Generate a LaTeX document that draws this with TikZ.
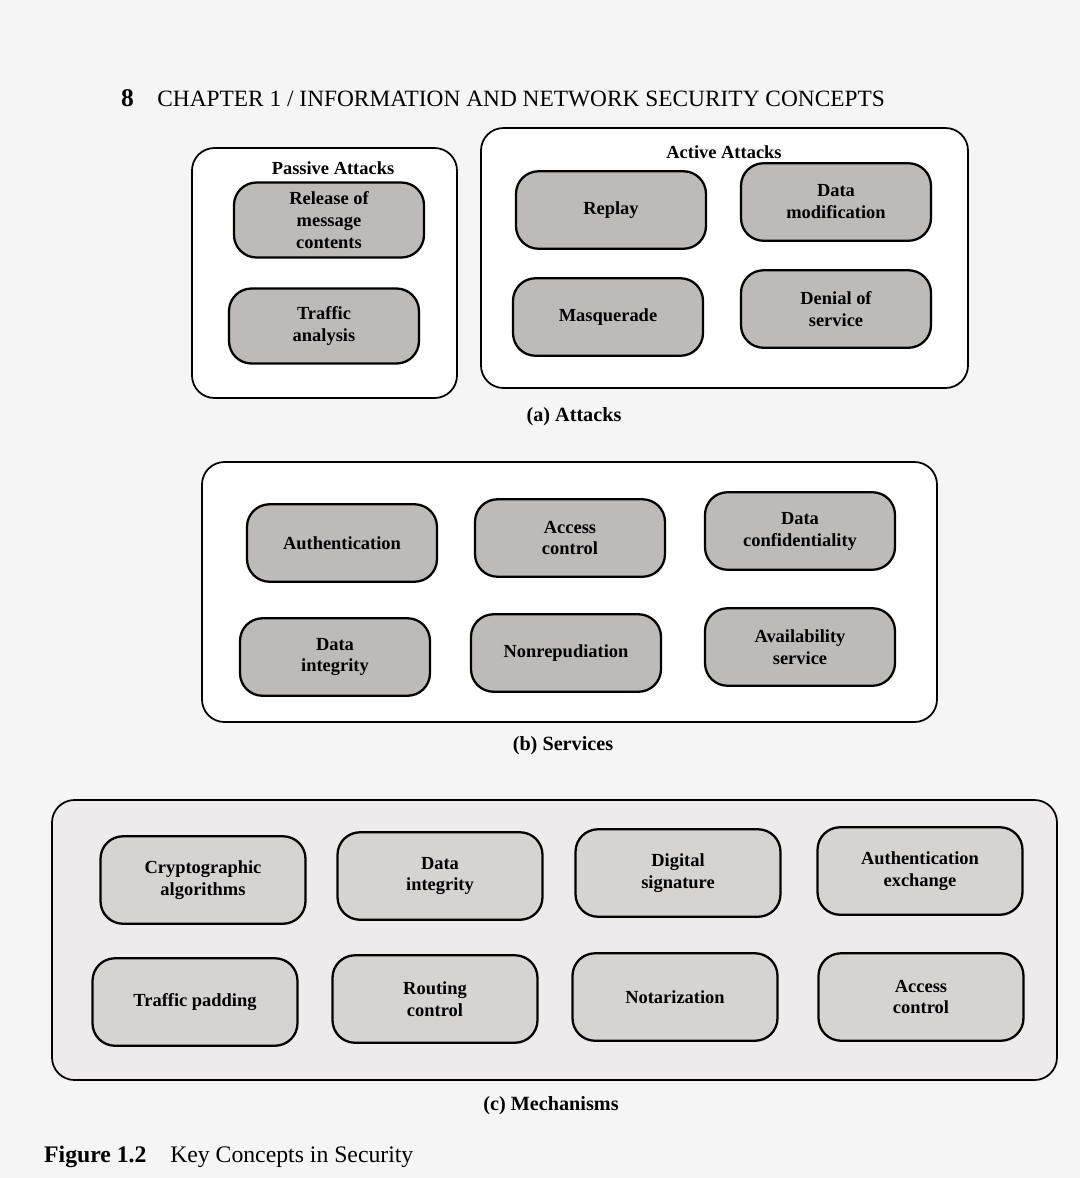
\documentclass[tikz,border=0pt]{standalone}
\usepackage{fontspec}
\setmainfont{Liberation Serif}
\usetikzlibrary{positioning}
\definecolor{pagebg}{HTML}{F6F5F5}
\definecolor{conceptgray}{HTML}{BDBABA}
\definecolor{mechgray}{HTML}{D6D3D3}
\definecolor{panelgray}{HTML}{EDEBEB}

\begin{document}
\begin{tikzpicture}[x=0.02cm,y=-0.02cm,
    panel/.style={draw,line width=1pt,rounded corners=0.45cm,fill=white},
    concept/.style={draw,line width=1.3pt,rounded corners=0.45cm,fill=conceptgray,
        minimum width=3.8cm,minimum height=1.55cm,align=center,
        font=\fontsize{10.5}{12.5}\selectfont\bfseries},
    mech/.style={concept,fill=mechgray,minimum width=4.1cm,minimum height=1.75cm},
    ptitle/.style={font=\fontsize{10.5}{12.5}\selectfont\bfseries},
    subcap/.style={font=\fontsize{11.5}{13}\selectfont\bfseries}]
    \fill[pagebg] (0,0) rectangle (1080,1178);
    \useasboundingbox (0,0) rectangle (1080,1178);
    % page head
    \node[anchor=west,font=\fontsize{13.3}{15}\selectfont] (head) at (115,98)
        {\textbf{\fontsize{14.5}{15}\selectfont 8}\quad CHAPTER 1 / INFORMATION AND NETWORK SECURITY CONCEPTS};
    % (a) Attacks
    \draw[panel] (192,148) rectangle (457,398);
    \node[ptitle] (passive) at (333,168) {Passive Attacks};
    \node[concept,minimum height=1.5cm] (relmsg) at (329,220) {Release of\\message\\contents};
    \node[concept,minimum height=1.5cm] (traffic) at (324,326) {Traffic\\analysis};
    \draw[panel] (481,128) rectangle (968,388);
    \node[ptitle] (active) at (724,152) {Active Attacks};
    \node[concept] (replay) at (611,210) {Replay};
    \node[concept] (datamod) at (836,202) {Data\\modification};
    \node[concept] (masq) at (608,317) {Masquerade};
    \node[concept] (dos) at (836,309) {Denial of\\service};
    \node[subcap] (capa) at (574,417) {(a) Attacks};
    % (b) Services
    \draw[panel] (202,462) rectangle (937,722);
    \node[concept] (auth) at (342,543) {Authentication};
    \node[concept] (accctl) at (570,538) {Access\\control};
    \node[concept] (dconf) at (800,531) {Data\\confidentiality};
    \node[concept] (dinteg) at (335,657) {Data\\integrity};
    \node[concept] (nonrep) at (566,653) {Nonrepudiation};
    \node[concept] (avail) at (800,647) {Availability\\service};
    \node[subcap] (capb) at (563,746) {(b) Services};
    % (c) Mechanisms
    \draw[panel,fill=panelgray] (52,800) rectangle (1057,1080);
    \node[mech] (crypto) at (203,880) {Cryptographic\\algorithms};
    \node[mech] (mdinteg) at (440,876) {Data\\integrity};
    \node[mech] (digsig) at (678,873) {Digital\\signature};
    \node[mech] (authex) at (920,871) {Authentication\\exchange};
    \node[mech] (tpad) at (195,1002) {Traffic padding};
    \node[mech] (routing) at (435,999) {Routing\\control};
    \node[mech] (notar) at (675,997) {Notarization};
    \node[mech] (mactl) at (921,997) {Access\\control};
    \node[subcap] (capc) at (551,1106) {(c) Mechanisms};
    % caption
    \node[anchor=west,font=\fontsize{13.5}{15}\selectfont] (figcap) at (38,1157)
        {\textbf{Figure 1.2}\quad Key Concepts in Security};
\end{tikzpicture}
\end{document}
